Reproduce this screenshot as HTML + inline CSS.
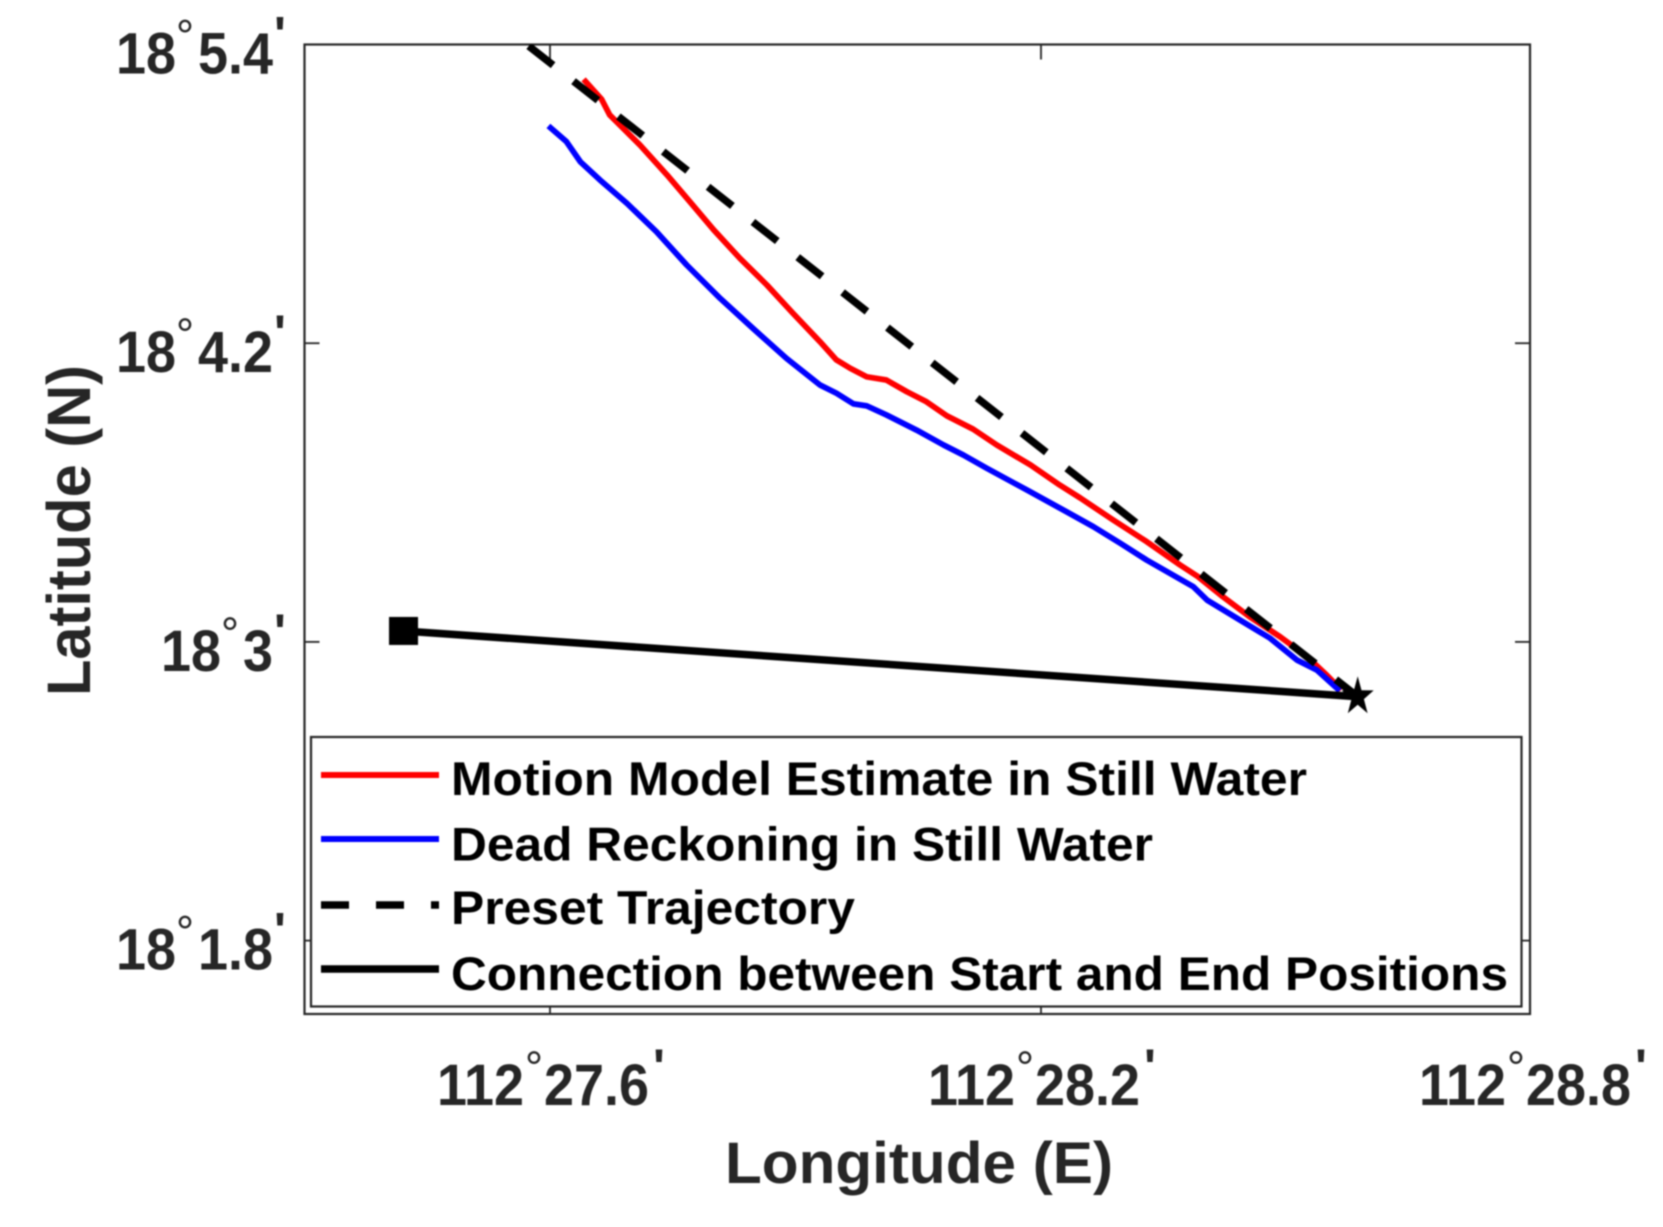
<!DOCTYPE html>
<html lang="en">
<head>
<meta charset="utf-8">
<title>Trajectory chart</title>
<style>
html,body{margin:0;padding:0;background:#fff;}
svg{display:block;filter:blur(0.8px);font-family:"Liberation Sans",sans-serif;}
</style>
</head>
<body>
<svg id="chart" xmlns="http://www.w3.org/2000/svg" width="1663" height="1227" viewBox="0 0 1663 1227">
  <rect x="0" y="0" width="1663" height="1227" fill="#fff"/>
  <defs><clipPath id="plot-clip"><rect x="304.5" y="44.5" width="1225.5" height="969.5"/></clipPath></defs>
  <g id="axes"></g>
  <g id="series" clip-path="url(#plot-clip)"></g>
  <g id="legend"></g>
  <text x="725" y="1183" font-size="58" font-weight="bold" fill="#262626" textLength="388" lengthAdjust="spacingAndGlyphs">Longitude (E)</text>
  <text transform="translate(90,696) rotate(-90)" x="0" y="0" font-size="61" font-weight="bold" fill="#262626" textLength="331" lengthAdjust="spacingAndGlyphs">Latitude (N)</text>
</svg>
<script>
// Longitude in minutes past 112 degrees E, latitude in minutes past 18 degrees N
var lonTicks = [27.6, 28.2, 28.8];
var latTicks = [5.4, 4.2, 3, 1.8];
var lonTickLabels = ["27.6", "28.2", "28.8"];
var latTickLabels = ["5.4", "4.2", "3", "1.8"];
var lonDegrees = "112";
var latDegrees = "18";

var motionLon = [27.641,27.663,27.673,27.710,27.743,27.771,27.800,27.832,27.865,27.897,27.930,27.950,27.967,27.987,28.011,28.036,28.060,28.085,28.117,28.146,28.187,28.223,28.248,28.288,28.329,28.370,28.392,28.422,28.455,28.492,28.525,28.549,28.567];
var motionLat = [5.260,5.180,5.117,4.996,4.876,4.768,4.655,4.541,4.434,4.320,4.206,4.133,4.099,4.065,4.052,4.005,3.965,3.908,3.855,3.791,3.711,3.630,3.578,3.490,3.403,3.309,3.262,3.182,3.101,3.021,2.941,2.867,2.807];

var deadLon = [27.598,27.620,27.637,27.661,27.694,27.730,27.767,27.808,27.848,27.889,27.930,27.950,27.971,27.987,28.011,28.048,28.081,28.105,28.134,28.183,28.231,28.264,28.297,28.329,28.386,28.403,28.443,28.480,28.513,28.537,28.565];
var deadLat = [5.073,5.010,4.929,4.856,4.762,4.648,4.514,4.380,4.260,4.139,4.032,3.999,3.956,3.948,3.912,3.851,3.791,3.751,3.697,3.610,3.523,3.463,3.396,3.329,3.222,3.168,3.088,3.015,2.927,2.887,2.804];

var presetLon = [27.574, 28.587];
var presetLat = [5.394, 2.780];

var connectionLon = [27.421, 28.587];
var connectionLat = [3.044, 2.780];

var legendLabels = ["Motion Model Estimate in Still Water", "Dead Reckoning in Still Water", "Preset Trajectory", "Connection between Start and End Positions"];

var NS = "http://www.w3.org/2000/svg";
var INK = "#262626";
function xAxis(lon) { return 550 + (lon - 27.6) * (818.33); }
function yAxis(lat) { return 44.5 + (5.4 - lat) * (248.92); }

function mk(parent, tag, attrs, text) {
  var el = document.createElementNS(NS, tag);
  for (var k in attrs) { el.setAttribute(k, attrs[k]); }
  if (text !== undefined) { el.textContent = text; }
  parent.appendChild(el);
  return el;
}

var axes = document.getElementById("axes");
var series = document.getElementById("series");
var legend = document.getElementById("legend");

var frame = mk(axes, "rect", {x: 304.5, y: 44.5, width: 1225.5, height: 969.5, fill: "none", stroke: INK, "stroke-width": 2.2});



var TICK = 15;
lonTicks.forEach(function (v, i) {
  var x = xAxis(v);
  if (i < lonTicks.length - 1) {
    var t1 = mk(axes, "line", {x1: x, x2: x, y1: 44.5, y2: 44.5 + TICK, stroke: INK, "stroke-width": 1.8});
    
    
    var t2 = mk(axes, "line", {x1: x, x2: x, y1: 1014, y2: 1014 - TICK, stroke: INK, "stroke-width": 1.8});
    
    
  }
  var g = mk(axes, "g", {fill: INK, "font-weight": "bold"});
  
  
  mk(g, "text", {transform: "translate(" + (x - 26) + ",1105) scale(0.93,1)", "text-anchor": "end", "font-size": 58}, lonDegrees);
  mk(g, "text", {x: x - 16, y: 1083, "text-anchor": "middle", "font-size": 45, "font-weight": "normal"}, "\u00B0");
  mk(g, "text", {transform: "translate(" + (x - 6) + ",1105) scale(0.93,1)", "font-size": 58}, lonTickLabels[i]);
  mk(g, "text", {x: x + 109, y: 1084, "text-anchor": "middle", "font-size": 50}, "'");
});

latTicks.forEach(function (v, i) {
  var y = yAxis(v);
  if (i > 0) {
    var t1 = mk(axes, "line", {x1: 304.5, x2: 304.5 + TICK, y1: y, y2: y, stroke: INK, "stroke-width": 1.8});
    
    
    var t2 = mk(axes, "line", {x1: 1530, x2: 1530 - TICK, y1: y, y2: y, stroke: INK, "stroke-width": 1.8});
    
    
  }
  var base = y + 29;
  var g = mk(axes, "g", {fill: INK, "font-weight": "bold"});
  
  
  var part = mk(g, "text", {transform: "translate(273," + base + ") scale(0.93,1)", "text-anchor": "end", "font-size": 58}, latTickLabels[i]);
  var start = 273 - part.getComputedTextLength() * 0.93;
  mk(g, "text", {x: start - 13, y: base - 22, "text-anchor": "middle", "font-size": 45, "font-weight": "normal"}, "\u00B0");
  mk(g, "text", {transform: "translate(" + (start - 22) + "," + base + ") scale(0.93,1)", "text-anchor": "end", "font-size": 58}, latDegrees);
  mk(g, "text", {x: 280, y: base - 22, "text-anchor": "middle", "font-size": 50}, "'");
});

function toPoints(lons, lats) {
  return lons.map(function (lon, i) { return xAxis(lon).toFixed(1) + "," + yAxis(lats[i]).toFixed(1); }).join(" ");
}

var redLine = mk(series, "polyline", {points: toPoints(motionLon, motionLat), fill: "none", stroke: "#ff0000", "stroke-width": 5.8, "stroke-linejoin": "round"});



var blueLine = mk(series, "polyline", {points: toPoints(deadLon, deadLat), fill: "none", stroke: "#0000ff", "stroke-width": 5.8, "stroke-linejoin": "round"});



var presetLine = mk(series, "polyline", {points: toPoints(presetLon, presetLat), fill: "none", stroke: "#000", "stroke-width": 7.5, "stroke-dasharray": "31 26"});



var connLine = mk(series, "polyline", {points: toPoints(connectionLon, connectionLat), fill: "none", stroke: "#000", "stroke-width": 7.5});



var sx = xAxis(connectionLon[0]);
var sy = yAxis(connectionLat[0]);
var startMarker = mk(series, "rect", {x: sx - 14.5, y: sy - 14, width: 29, height: 28, fill: "#000"});



var ex = xAxis(connectionLon[1]);
var ey = yAxis(connectionLat[1]);
var starPts = [];
for (var k = 0; k < 10; k++) {
  var a = -Math.PI / 2 + k * Math.PI / 5;
  var rx = k % 2 ? 6.5 : 16.8;
  var ry = k % 2 ? 8 : 20.4;
  starPts.push((ex + rx * Math.cos(a)).toFixed(1) + "," + (ey + ry * Math.sin(a)).toFixed(1));
}
var endMarker = mk(series, "polygon", {points: starPts.join(" "), fill: "#000"});



var box = mk(legend, "rect", {x: 311, y: 737, width: 1210.5, height: 269.5, fill: "#fff", stroke: INK, "stroke-width": 2.2});



var legendStroke = ["#ff0000", "#0000ff", "#000", "#000"];
var legendWidth = [6, 6, 7.5, 7.5];
var legendDash = ["none", "none", "28 27", "none"];
var legendLineY = [775, 839, 905, 969];
var legendBase = [795, 860.5, 924, 990];
var legendTextW = [856, 702, 404, 1057];
legendLabels.forEach(function (label, i) {
  var g = mk(legend, "g", {});
  
  
  mk(g, "line", {x1: 321, x2: 439, y1: legendLineY[i], y2: legendLineY[i], stroke: legendStroke[i], "stroke-width": legendWidth[i], "stroke-dasharray": legendDash[i]});
  mk(g, "text", {x: 451, y: legendBase[i], "font-size": 47, "font-weight": "bold", fill: "#000", textLength: legendTextW[i], lengthAdjust: "spacingAndGlyphs"}, label);
});
</script>
</body>
</html>
